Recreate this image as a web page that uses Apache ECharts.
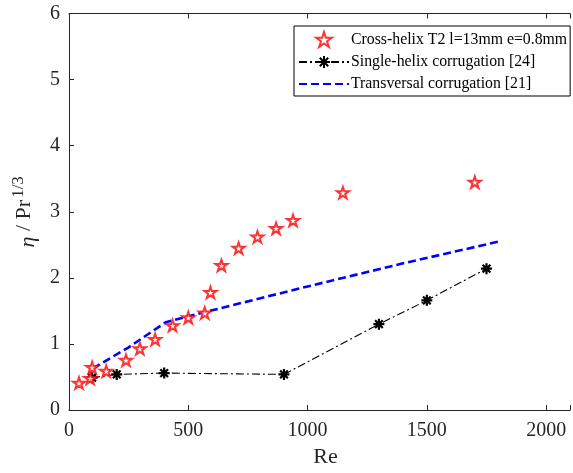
<!DOCTYPE html>
<html><head><meta charset="utf-8">
<script src="https://cdn.jsdelivr.net/npm/echarts@6/dist/echarts.min.js"></script>
<style>html,body{margin:0;padding:0;background:#fff}#c{width:573px;height:473px}</style>
</head><body><div id="c"></div>
<script>
const starRe  = [42, 89, 97, 156, 239, 297, 361, 434, 500, 569, 593, 639, 711, 790, 868, 939, 1148, 1701];
const starEta = [0.41, 0.48, 0.645, 0.59, 0.755, 0.93, 1.07, 1.28, 1.40, 1.47, 1.78, 2.19, 2.45, 2.62, 2.75, 2.87, 3.29, 3.45];
const singleRe  = [97, 200, 399, 901, 1299, 1500, 1750];
const singleEta = [0.49, 0.54, 0.56, 0.54, 1.30, 1.66, 2.14];
const transRe  = [100, 250, 406, 600, 1000, 1400, 1802];
const transEta = [0.63, 0.95, 1.33, 1.51, 1.87, 2.22, 2.55];
const xTicks = [0, 500, 1000, 1500, 2000];
const yTicks = [0, 1, 2, 3, 4, 5, 6];
const names = ['Cross-helix T2 l=13mm e=0.8mm', 'Single-helix corrugation [24]', 'Transversal corrugation [21]'];

const zip = (a, b) => a.map((v, i) => [v, b[i]]);
const STAR = 'path://M10 0 L12.245 6.91 L19.511 6.91 L13.633 11.18 L15.878 18.09 L10 13.82 L4.122 18.09 L6.367 11.18 L0.489 6.91 L7.755 6.91 Z';
const AST = 'path://M10 0 L10 20 M0 10 L20 10 M3 3 L17 17 M17 3 L3 17';
const FONT = 'Liberation Serif';

const chart = echarts.init(document.getElementById('c'), null, {renderer: 'canvas'});
chart.setOption({
  animation: false,
  backgroundColor: '#fff',
  textStyle: {fontFamily: FONT},
  grid: {left: 69, right: 0, top: 13.5, bottom: 62},
  legend: {
    orient: 'vertical', left: 294, top: 26,
    padding: [5, 3, 4, 4], itemGap: 6, itemWidth: 50, itemHeight: 15,
    backgroundColor: '#fff', borderColor: '#000', borderWidth: 1,
    textStyle: {fontFamily: FONT, fontSize: 15.8, color: '#000', padding: [0, 0, 0, -3]},
    data: [{name: names[0]}, {name: names[1]}, {name: names[2], itemStyle: {opacity: 0}}]
  },
  xAxis: [{
    type: 'value', min: 0, max: 2100, interval: 500,
    name: 'Re', nameLocation: 'middle', nameGap: 34,
    nameTextStyle: {fontFamily: FONT, fontSize: 22, color: '#262626', padding: [0, 0, 0, 12]},
    axisLine: {show: true, lineStyle: {color: '#262626', width: 1}},
    axisTick: {show: true, inside: true, length: 5, lineStyle: {color: '#262626'}},
    axisLabel: {fontFamily: FONT, fontSize: 20, color: '#262626', margin: 11,
      formatter: v => xTicks.includes(v) ? String(v) : ''},
    splitLine: {show: false}
  }, {
    type: 'value', position: 'top', min: 0, max: 2100, interval: 500,
    axisLine: {show: true, lineStyle: {color: '#262626', width: 1}},
    axisTick: {show: true, inside: true, length: 5, lineStyle: {color: '#262626'}},
    axisLabel: {show: false}, splitLine: {show: false}
  }],
  yAxis: {
    type: 'value', min: 0, max: 6, interval: 1,
    name: '{it|η} / Pr{sup|1/3}', nameLocation: 'middle', nameGap: 21, nameRotate: 90,
    nameTextStyle: {fontFamily: FONT, fontSize: 22, color: '#262626',
      rich: {it: {fontFamily: FONT, fontSize: 22, fontStyle: 'italic', color: '#262626', verticalAlign: 'bottom'},
             sup: {fontFamily: FONT, fontSize: 17, color: '#262626', verticalAlign: 'top', padding: [0, 0, 12, 2]}}},
    axisLine: {show: true, lineStyle: {color: '#262626', width: 1}},
    axisTick: {show: true, inside: true, length: 5, lineStyle: {color: '#262626'}},
    axisLabel: {fontFamily: FONT, fontSize: 20, color: '#262626', margin: 9,
      formatter: v => yTicks.includes(v) ? String(v) : ''},
    splitLine: {show: false}
  },
  series: [{
    name: names[0], type: 'scatter', data: zip(starRe, starEta),
    symbol: STAR, symbolSize: 12, symbolKeepAspect: true,
    itemStyle: {color: '#fff', borderColor: '#ff0000', borderWidth: 2},
    z: 5
  }, {
    name: names[1], type: 'line', data: zip(singleRe, singleEta),
    symbol: AST, symbolSize: 11, showSymbol: true,
    lineStyle: {color: '#000', width: 1.1, type: [8, 3, 2, 3]},
    itemStyle: {color: '#000', borderColor: '#000', borderWidth: 2.2},
    z: 3
  }, {
    name: names[2], type: 'line', data: zip(transRe, transEta),
    symbol: 'none', showSymbol: false,
    lineStyle: {color: '#0000ff', width: 2.6, type: [8, 4]},
    itemStyle: {color: '#0000ff'},
    z: 4
  }]
});
</script></body></html>
